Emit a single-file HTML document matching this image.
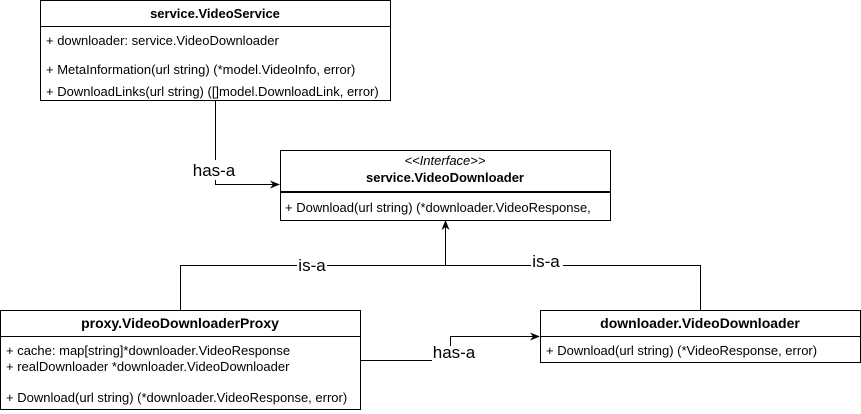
<!DOCTYPE html>
<html><head><meta charset="utf-8"><style>
html,body{margin:0;padding:0;background:#fff;width:861px;height:414px;overflow:hidden}
text{font-family:"Liberation Sans",Arial,sans-serif;fill:#000}
</style></head><body>
<svg width="861" height="414" viewBox="0 0 861 414" xmlns="http://www.w3.org/2000/svg">
<defs><marker id="a" markerWidth="10" markerHeight="8" refX="9" refY="4" orient="auto" markerUnits="userSpaceOnUse"><path d="M0,0 L10,4 L0,8 L3,4 Z" fill="#000"/></marker></defs>
<g fill="none" stroke="#000" stroke-width="1">
<!-- Box1 -->
<rect x="40.5" y="0.5" width="350" height="100"/>
<line x1="40.5" y1="26.5" x2="390.5" y2="26.5"/>
<!-- Box2 -->
<rect x="280.5" y="150.5" width="330" height="70"/>
<line x1="280.5" y1="192" x2="610.5" y2="192" stroke-width="2"/>
<!-- Box3 -->
<rect x="0.5" y="310.5" width="360" height="99"/>
<line x1="0.5" y1="336.5" x2="360.5" y2="336.5"/>
<!-- Box4 -->
<rect x="540.5" y="310.5" width="320" height="52"/>
<line x1="540.5" y1="336.5" x2="860.5" y2="336.5"/>
<!-- connectors -->
<path d="M215.5,101 V184.5 H279" marker-end="url(#a)"/>
<path d="M180.5,310 V265.5 H700.5 V310"/>
<path d="M445.5,265 V221" marker-end="url(#a)"/>
<path d="M361,360.5 H432"/>
<path d="M450.5,346 V336.5 H539" marker-end="url(#a)"/>
</g>
<rect x="192" y="160" width="46" height="20" fill="#fff"/>
<rect x="297" y="256" width="30" height="18" fill="#fff"/>
<rect x="531" y="252" width="32" height="18" fill="#fff"/>
<g font-size="13">
<text x="215" y="18" text-anchor="middle" font-weight="bold">service.VideoService</text>
<text x="46" y="45">+ downloader: service.VideoDownloader</text>
<text x="46" y="74">+ MetaInformation(url string) (*model.VideoInfo, error)</text>
<text x="46" y="96">+ DownloadLinks(url string) ([]model.DownloadLink, error)</text>
<text x="445" y="165" text-anchor="middle" font-style="italic">&lt;&lt;Interface&gt;&gt;</text>
<text x="445" y="182" text-anchor="middle" font-weight="bold">service.VideoDownloader</text>
<text x="285" y="212">+ Download(url string) (*downloader.VideoResponse,</text>
<text x="180" y="328" text-anchor="middle" font-weight="bold" font-size="14">proxy.VideoDownloaderProxy</text>
<text x="6" y="355">+ cache: map[string]*downloader.VideoResponse</text>
<text x="6" y="371">+ realDownloader *downloader.VideoDownloader</text>
<text x="6" y="402">+ Download(url string) (*downloader.VideoResponse, error)</text>
<text x="700" y="328" text-anchor="middle" font-weight="bold" font-size="14">downloader.VideoDownloader</text>
<text x="546" y="355">+ Download(url string) (*VideoResponse, error)</text>
</g>
<g font-size="17">
<text x="214" y="176" text-anchor="middle">has-a</text>
<text x="312" y="271" text-anchor="middle">is-a</text>
<text x="546" y="267" text-anchor="middle">is-a</text>
<text x="454" y="358" text-anchor="middle">has-a</text>
</g>
</svg>
</body></html>
